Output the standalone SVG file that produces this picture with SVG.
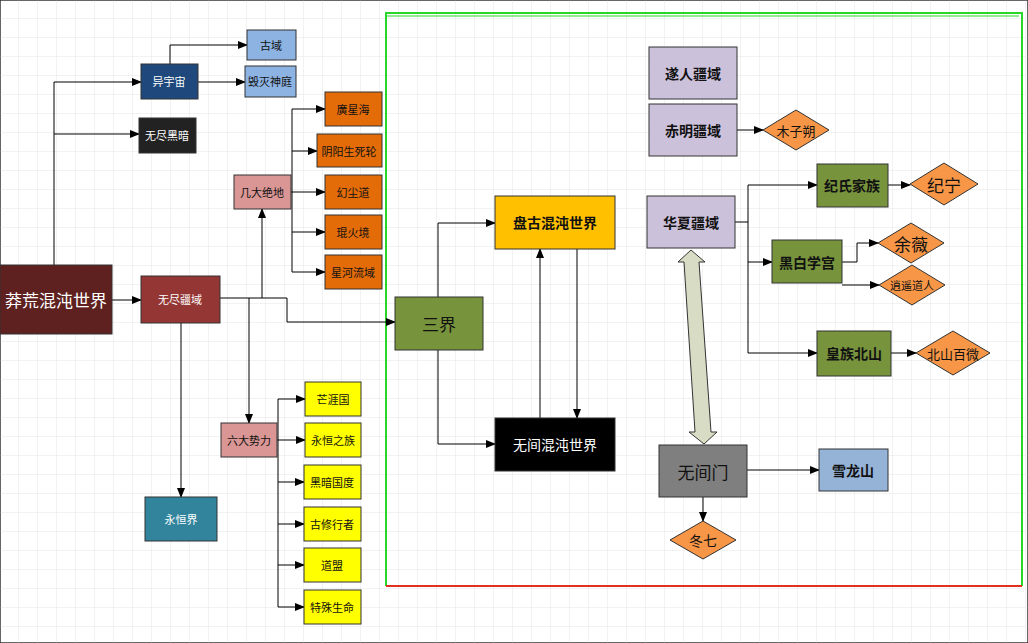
<svg xmlns="http://www.w3.org/2000/svg" width="1028" height="643" viewBox="0 0 1028 643">
<defs>
<pattern id="grid" width="19" height="19" patternUnits="userSpaceOnUse"><path d="M19 0V19H0" fill="none" stroke="#e4e4e4" stroke-width="1"/></pattern>
<marker id="ar" markerWidth="10" markerHeight="8" refX="9" refY="4" orient="auto" markerUnits="userSpaceOnUse"><path d="M0,0L10,4L0,8z" fill="#000"/></marker>
</defs>
<style>
rect{stroke:#333;stroke-width:1}
polygon{stroke:#333;stroke-width:1}
text{font-family:"Noto Sans CJK SC","Liberation Sans",sans-serif;text-anchor:middle;dominant-baseline:central}
.s{font-size:11px}.m{font-size:14px;font-weight:bold}.l{font-size:17px}
.w{fill:#fff}.k{fill:#111}
.c path{fill:none;stroke:#000;stroke-width:1;marker-end:url(#ar)}
.c .n{marker-end:none}
</style>
<rect width="1028" height="643" fill="#fff" stroke="none"/>
<rect width="1028" height="643" fill="url(#grid)" stroke="none"/>
<g id="frame" fill="none">
<path d="M386 586V13H1022V586" stroke="#2bd62b" stroke-width="2"/>
<path d="M386 16H1019" stroke="#2bd62b" stroke-width="1"/>
<path d="M386 586H1022" stroke="#e03020" stroke-width="2"/>
</g>
<g class="c" id="connectors">
<path d="M112 300H141"/>
<path d="M54 265V82H141"/>
<path class="n" d="M54 134H100"/><path d="M100 134H139"/>
<path d="M170 64V45H247"/>
<path d="M198 82H245"/>
<path class="n" d="M220 298H287"/>
<path d="M262 298V209"/>
<path d="M249 298V423"/>
<path d="M287 298V322H395"/>
<path d="M181 323V497"/>
<path class="n" d="M291 192H292M292 109V272"/>
<path d="M292 109H325"/><path d="M292 151H317"/><path d="M292 192H325"/><path d="M292 232H325"/><path d="M292 272H325"/>
<path class="n" d="M277 440H278M278 399V607"/>
<path d="M278 399H305"/><path d="M278 440H305"/><path d="M278 482H304"/><path d="M278 524H304"/><path d="M278 565H304"/><path d="M278 607H304"/>
<path d="M438 297V223H495"/>
<path d="M438 350V444H495"/>
<path d="M540 418V249"/>
<path d="M577 249V418"/>
<path d="M737 130H763"/>
<path class="n" d="M735 222H748M748 185V353"/>
<path d="M748 185H817"/><path d="M748 262H772"/><path d="M748 353H817"/>
<path d="M888 185H910"/>
<path d="M842 262H857V243H878"/>
<path d="M842 285H879"/>
<path d="M891 353H916"/>
<path d="M747 470H819"/>
<path d="M703 497V521"/>
<polygon points="691,250 705,262 699,262 711,432 717,432 704,444 689,432 695,432 684,262 678,262" fill="#d8dcc4" stroke="#333"/>
</g>
<g id="n1"><rect x="0" y="265" width="112" height="69" fill="#5e2120"/><text x="56" y="299" class="l w">莽荒混沌世界</text></g>
<g id="n2"><rect x="141" y="64" width="57" height="35" fill="#1f497d"/><text x="169" y="81" class="s w">异宇宙</text></g>
<g id="n3"><rect x="247" y="30" width="49" height="30" fill="#8db3e2"/><text x="271" y="45" class="s k">古域</text></g>
<g id="n4"><rect x="245" y="66" width="51" height="31" fill="#8db3e2"/><text x="270" y="81" class="s k">毁灭神庭</text></g>
<g id="n5"><rect x="139" y="118" width="57" height="35" fill="#222"/><text x="167" y="135" class="s w">无尽黑暗</text></g>
<g id="n6"><rect x="141" y="276" width="79" height="47" fill="#943634"/><text x="180" y="299" class="s w">无尽疆域</text></g>
<g id="n7"><rect x="234" y="175" width="57" height="34" fill="#d99694"/><text x="262" y="192" class="s k">几大绝地</text></g>
<g id="n8"><rect x="325" y="92" width="57" height="34" fill="#e36c09"/><text x="353" y="109" class="s k">廣星海</text></g>
<g id="n9"><rect x="317" y="134" width="65" height="33" fill="#e36c09"/><text x="349" y="151" class="s k">阴阳生死轮</text></g>
<g id="n10"><rect x="325" y="175" width="57" height="34" fill="#e36c09"/><text x="353" y="192" class="s k">幻尘道</text></g>
<g id="n11"><rect x="325" y="215" width="57" height="34" fill="#e36c09"/><text x="353" y="232" class="s k">琨火境</text></g>
<g id="n12"><rect x="325" y="255" width="57" height="34" fill="#e36c09"/><text x="353" y="272" class="s k">星河流域</text></g>
<g id="n13"><rect x="221" y="423" width="56" height="34" fill="#d99694"/><text x="249" y="440" class="s k">六大势力</text></g>
<g id="n14"><rect x="305" y="382" width="56" height="34" fill="#ffff00"/><text x="333" y="399" class="s k">芒涯国</text></g>
<g id="n15"><rect x="305" y="423" width="56" height="34" fill="#ffff00"/><text x="333" y="440" class="s k">永恒之族</text></g>
<g id="n16"><rect x="304" y="465" width="57" height="34" fill="#ffff00"/><text x="332" y="482" class="s k">黑暗国度</text></g>
<g id="n17"><rect x="304" y="507" width="57" height="34" fill="#ffff00"/><text x="332" y="524" class="s k">古修行者</text></g>
<g id="n18"><rect x="304" y="548" width="57" height="34" fill="#ffff00"/><text x="332" y="565" class="s k">道盟</text></g>
<g id="n19"><rect x="304" y="590" width="57" height="34" fill="#ffff00"/><text x="332" y="607" class="s k">特殊生命</text></g>
<g id="n20"><rect x="145" y="497" width="72" height="44" fill="#31849b"/><text x="181" y="519" class="s w">永恒界</text></g>
<g id="n21"><rect x="395" y="297" width="88" height="53" fill="#77933c"/><text x="439" y="323" class="l k">三界</text></g>
<g id="n22"><rect x="495" y="196" width="120" height="53" fill="#ffc000"/><text x="555" y="222" class="m k">盘古混沌世界</text></g>
<g id="n23"><rect x="495" y="418" width="120" height="53" fill="#000"/><text x="555" y="444" class="m w" style="font-weight:normal">无间混沌世界</text></g>
<g id="n24"><rect x="649" y="47" width="88" height="52" fill="#ccc1da"/><text x="693" y="73" class="m k">遂人疆域</text></g>
<g id="n25"><rect x="649" y="104" width="88" height="52" fill="#ccc1da"/><text x="693" y="130" class="m k">赤明疆域</text></g>
<g id="n26"><polygon points="763,130 796,110 829,130 796,150" fill="#f79646"/><text x="796" y="130" class="s k" style="font-size:13px">木子朔</text></g>
<g id="n27"><rect x="647" y="196" width="88" height="52" fill="#ccc1da"/><text x="691" y="222" class="m k">华夏疆域</text></g>
<g id="n28"><rect x="817" y="164" width="71" height="43" fill="#77933c"/><text x="852" y="185" class="m k">纪氏家族</text></g>
<g id="n29"><polygon points="910,184 944,163 978,184 944,205" fill="#f79646"/><text x="944" y="184" class="l k">纪宁</text></g>
<g id="n30"><rect x="772" y="240" width="70" height="43" fill="#77933c"/><text x="807" y="262" class="m k">黑白学宫</text></g>
<g id="n31"><polygon points="878,243 911,223 944,243 911,263" fill="#f79646"/><text x="911" y="243" class="l k">余薇</text></g>
<g id="n32"><polygon points="879,285 912,265 945,285 912,305" fill="#f79646"/><text x="912" y="285" class="s k">逍遥道人</text></g>
<g id="n33"><rect x="817" y="331" width="74" height="45" fill="#77933c"/><text x="854" y="353" class="m k">皇族北山</text></g>
<g id="n34"><polygon points="916,353 953,331 990,353 953,375" fill="#f79646"/><text x="953" y="353" class="s k" style="font-size:13px">北山百微</text></g>
<g id="n35"><rect x="659" y="445" width="88" height="52" fill="#7f7f7f"/><text x="703" y="471" class="l k">无间门</text></g>
<g id="n36"><rect x="819" y="449" width="69" height="42" fill="#95b3d7"/><text x="853" y="470" class="m k">雪龙山</text></g>
<g id="n37"><polygon points="670,540 703,521 736,540 703,559" fill="#f79646"/><text x="703" y="540" class="s k" style="font-size:14px">冬七</text></g>
</svg>
